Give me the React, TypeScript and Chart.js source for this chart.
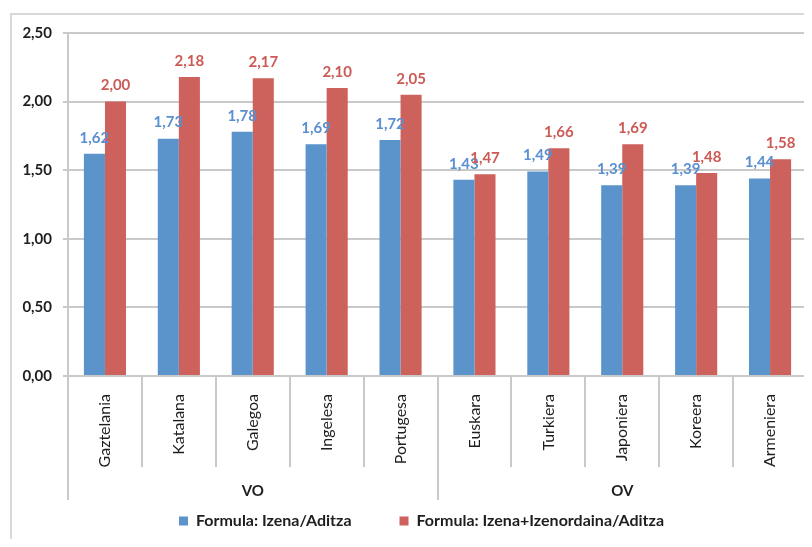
import React, { useEffect, useRef } from 'react';
import { Chart, registerables } from 'chart.js';

Chart.register(...registerables);

const categories = ['Gaztelania', 'Katalana', 'Galegoa', 'Ingelesa', 'Portugesa', 'Euskara', 'Turkiera', 'Japoniera', 'Koreera', 'Armeniera'];
const groups = ['VO', 'OV'];
const groupSizes = [5, 5];
const seriesNames = ['Formula: Izena/Aditza', 'Formula: Izena+Izenordaina/Aditza'];
const izenaAditza = [1.62, 1.73, 1.78, 1.69, 1.72, 1.43, 1.49, 1.39, 1.39, 1.44];
const izenaIzenordainaAditza = [2.0, 2.18, 2.17, 2.1, 2.05, 1.47, 1.66, 1.69, 1.48, 1.58];
const yMin = 0;
const yMax = 2.5;
const yStep = 0.5;

const FONT = 'Lato, "Open Sans", sans-serif';
const barColors = ['#5b93cb', '#cd615b'];
const labelColors = ['#5a8fd0', '#cc5a55'];
const gridColor = '#c9c9c9';
const textColor = '#1e1e1e';

const fmt = (v: number) => v.toFixed(2).replace('.', ',');

const valueLabels = {
  id: 'valueLabels',
  afterDatasetsDraw(chart: any) {
    const ctx = chart.ctx;
    chart.data.datasets.forEach((ds: any, di: number) => {
      const meta = chart.getDatasetMeta(di);
      meta.data.forEach((bar: any, i: number) => {
        ctx.save();
        ctx.font = `bold 15px ${FONT}`;
        ctx.fillStyle = labelColors[di];
        ctx.textAlign = 'center';
        ctx.textBaseline = 'middle';
        ctx.fillText(fmt(ds.data[i]), bar.x, bar.y - 16);
        ctx.restore();
      });
    });
  },
};

const groupAxis = {
  id: 'groupAxis',
  afterLayout(chart: any) {
    // nudge legend to sit under the plot like the reference
    if (chart.legend) {
      chart.legend.left += 14;
      chart.legend.right += 14;
    }
    // let rotated category labels extend a little without being clipped
    const xs = chart.scales.x;
    if (xs) xs.bottom = xs.top + 110;
  },
  afterDraw(chart: any) {
    const ctx = chart.ctx;
    const xs = chart.scales.x;
    const top = chart.chartArea.bottom;
    const n = categories.length;
    const w = (xs.right - xs.left) / n;
    const edges = new Set<number>([0]);
    let acc = 0;
    groupSizes.forEach((s) => {
      acc += s;
      edges.add(acc);
    });
    ctx.save();
    ctx.strokeStyle = gridColor;
    ctx.lineWidth = 2;
    for (let i = 0; i <= n; i++) {
      const bx = Math.round(xs.left + i * w);
      const len = edges.has(i) ? 124 : 91;
      ctx.beginPath();
      ctx.moveTo(bx, top);
      ctx.lineTo(bx, top + len);
      ctx.stroke();
    }
    ctx.font = `bold 15px ${FONT}`;
    ctx.fillStyle = textColor;
    ctx.textAlign = 'center';
    ctx.textBaseline = 'middle';
    let start = 0;
    groups.forEach((g, gi) => {
      const end = start + groupSizes[gi];
      const cx = xs.left + ((start + end) / 2) * w;
      ctx.fillText(g, cx, top + 115);
      start = end;
    });
    ctx.restore();
  },
};

export default function App() {
  const ref = useRef<HTMLCanvasElement>(null);

  useEffect(() => {
    document.body.style.overflow = 'hidden';
    const chart = new Chart(ref.current!, {
      type: 'bar',
      data: {
        labels: categories,
        datasets: [
          {
            label: seriesNames[0],
            data: izenaAditza,
            backgroundColor: barColors[0],
            categoryPercentage: 0.57,
            barPercentage: 1,
          },
          {
            label: seriesNames[1],
            data: izenaIzenordainaAditza,
            backgroundColor: barColors[1],
            categoryPercentage: 0.57,
            barPercentage: 1,
          },
        ],
      },
      options: {
        responsive: false,
        animation: false,
        layout: { padding: { top: 25, right: 5, left: 0, bottom: 0 } },
        plugins: {
          tooltip: { enabled: false },
          legend: {
            position: 'bottom',
            labels: {
              boxWidth: 9,
              boxHeight: 9,
              padding: 48,
              color: textColor,
              font: { family: FONT, size: 16, weight: 'bold' },
            },
          },
        },
        scales: {
          x: {
            grid: { display: false },
            border: { display: false },
            ticks: {
              autoSkip: false,
              minRotation: 90,
              maxRotation: 90,
              padding: 10,
              color: textColor,
              font: { family: FONT, size: 16 },
            },
            afterFit: (s: any) => {
              s.height = 89;
            },
          },
          y: {
            min: yMin,
            max: yMax,
            grid: { color: gridColor, lineWidth: 2, tickLength: 5 },
            border: { color: gridColor, width: 2 },
            ticks: {
              stepSize: yStep,
              padding: 11,
              color: textColor,
              font: { family: FONT, size: 15, weight: 'bold' },
              callback: (v: any) => fmt(Number(v)),
            },
            afterFit: (s: any) => {
              s.width = 60;
            },
          },
        },
      },
      plugins: [valueLabels, groupAxis],
    });
    return () => chart.destroy();
  }, []);

  return (
    <div style={{ position: 'relative', width: 804, height: 531, overflow: 'hidden' }}>
      <div
        style={{
          position: 'absolute',
          left: 2,
          top: 5,
          width: 900,
          height: 700,
          border: '2px solid #d9d9d9',
        }}
      />
      <canvas ref={ref} width={804} height={531} style={{ position: 'absolute', left: 0, top: 0 }} />
    </div>
  );
}
